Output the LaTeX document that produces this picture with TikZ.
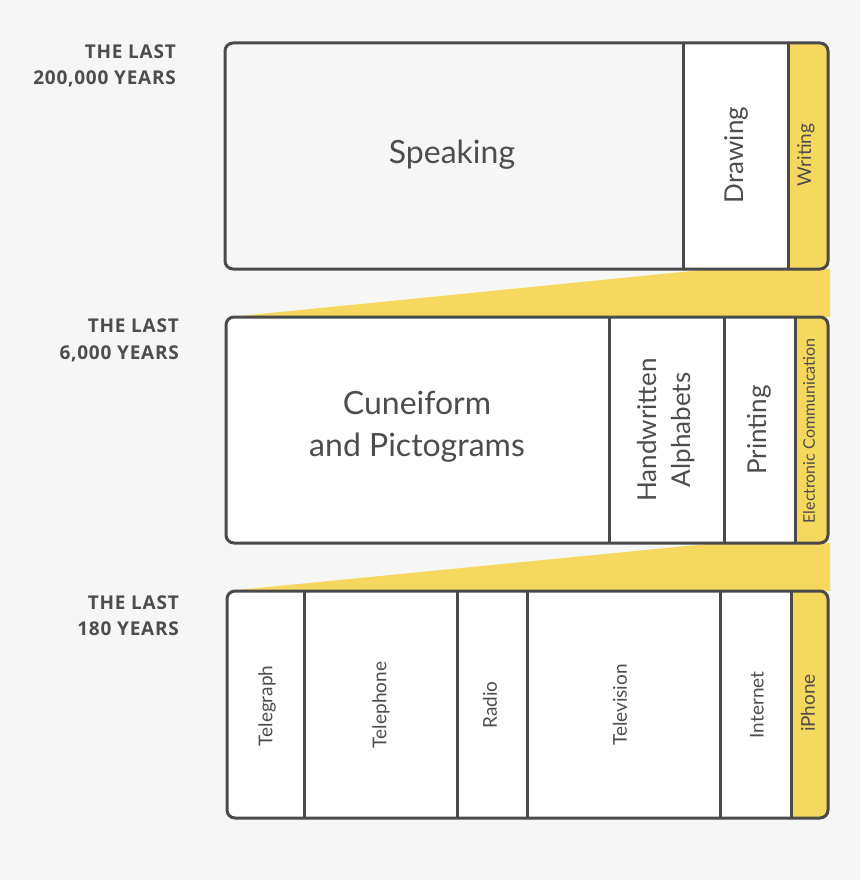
\documentclass[tikz,border=0pt]{standalone}
\usepackage{fontspec}
\setmainfont{Lato}
\newfontfamily\erafont[LetterSpace=4.0]{Open Sans}
\definecolor{bg}{HTML}{F6F6F6}
\definecolor{ln}{HTML}{4A4A4A}
\definecolor{yl}{HTML}{F7D85E}
\definecolor{tx}{HTML}{4D4D4D}
\tikzset{
  frame/.style={draw=ln, line width=3pt, rounded corners=8pt},
  divider/.style={draw=ln, line width=3pt},
  wedge/.style={fill=yl},
  big/.style={text=tx, font=\fontsize{32}{42}\selectfont, align=center, inner sep=0pt},
  mid/.style={text=tx, font=\fontsize{26}{34}\selectfont, align=center, rotate=90, inner sep=0pt},
  small/.style={text=tx, font=\fontsize{19}{23}\selectfont, rotate=90, inner sep=0pt},
  tiny/.style={text=tx, font=\fontsize{16}{20}\selectfont, rotate=90, inner sep=0pt},
  era/.style={text=tx, font=\erafont\fontsize{19}{26.5}\bfseries\selectfont, align=right, anchor=east, inner sep=0pt}
}
\begin{document}
\begin{tikzpicture}[x=1pt,y=-1pt]
\fill[bg] (0,0) rectangle (860,880);
\useasboundingbox (0,0) rectangle (860,880);
% funnels
\fill[wedge] (240,316) -- (712,269) -- (830,269) -- (830,317) -- cycle;
\fill[wedge] (237,590) -- (717,543) -- (830,543) -- (830,591) -- cycle;
% box 1
\begin{scope}
\clip[rounded corners=8pt] (225,43) rectangle (828,269);
\fill[white] (225,43) rectangle (828,269);
\fill[bg] (225,43) rectangle (683,269);
\fill[yl] (788,43) rectangle (828,269);
\end{scope}
\draw[divider] (683,43) -- (683,269);
\draw[divider] (788,43) -- (788,269);
\draw[frame] (225,43) rectangle (828,269);
% box 2
\begin{scope}
\clip[rounded corners=8pt] (226,317) rectangle (828,543);
\fill[white] (226,317) rectangle (828,543);
\fill[yl] (795,317) rectangle (828,543);
\end{scope}
\draw[divider] (609,317) -- (609,543);
\draw[divider] (724,317) -- (724,543);
\draw[divider] (795,317) -- (795,543);
\draw[frame] (226,317) rectangle (828,543);
% box 3
\begin{scope}
\clip[rounded corners=8pt] (227,591) rectangle (828,818);
\fill[white] (227,591) rectangle (828,818);
\fill[yl] (791,591) rectangle (828,818);
\end{scope}
\draw[divider] (304,591) -- (304,818);
\draw[divider] (457,591) -- (457,818);
\draw[divider] (527,591) -- (527,818);
\draw[divider] (720,591) -- (720,818);
\draw[divider] (791,591) -- (791,818);
\draw[frame] (227,591) rectangle (828,818);
% era labels
\node[era] (e1) at (176,66) {THE LAST\\200,000 YEARS};
\node[era] (e2) at (179,340.5) {THE LAST\\6,000 YEARS};
\node[era] (e3) at (179,615.5) {THE LAST\\180 YEARS};
% box 1 labels
\node[big] (speaking) at (452,155) {Speaking};
\node[mid] (drawing) at (736,155) {Drawing};
\node[small] (writing) at (806,155) {Writing};
% box 2 labels
\node[big] (cuneiform) at (417,427) {Cuneiform\\and Pictograms};
\node[mid] (handwritten) at (666,430) {Handwritten\\Alphabets};
\node[mid] (printing) at (759,430) {Printing};
\node[tiny] (electronic) at (809,431) {Electronic Communication};
% box 3 labels
\node[small] (telegraph) at (267,706) {Telegraph};
\node[small] (telephone) at (381,705) {Telephone};
\node[small] (radio) at (490,705) {Radio};
\node[small] (television) at (620,705) {Television};
\node[small] (internet) at (757,705) {Internet};
\node[small] (iphone) at (808,703) {iPhone};
\end{tikzpicture}
\end{document}
